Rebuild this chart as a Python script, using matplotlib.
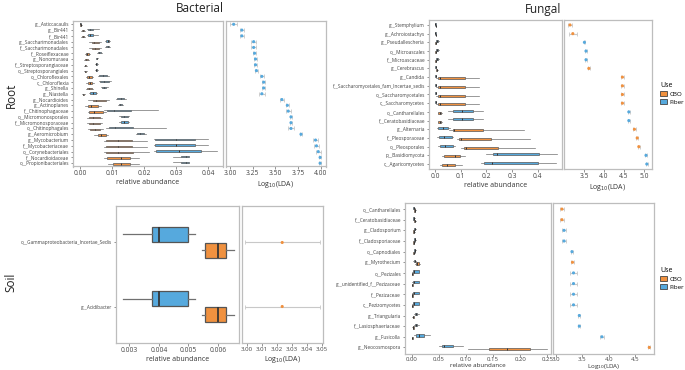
import matplotlib
matplotlib.use("Agg")
import matplotlib.pyplot as plt
from matplotlib.patches import Patch
import numpy as np

plt.rcParams['font.family'] = ['Open Sans', 'DejaVu Sans']

W, H = 685, 370
CBO = '#F0913F'
FIBER = '#56A9DD'
colmap = {'CBO': CBO, 'Fiber': FIBER}

# ---- Root / Bacterial ----
root_bac_labels = ['g__Asticcacaulis', 'g__Bir441', 'f__Bir441', 'g__Saccharimonadales',
                   'f__Saccharimonadales', 'f__Roseiflexaceae', 'g__Nonomuraea',
                   'f__Streptosporangiaceae', 'o__Streptosporangiales', 'o__Chloroflexales',
                   'c__Chloroflexia', 'g__Shinella', 'g__Niastella', 'g__Nocardioides',
                   'g__Actinoplanes', 'f__Chitinophagaceae', 'o__Micromonosporales',
                   'f__Micromonosporaceae', 'o__Chitinophagales', 'g__Aeromicrobium',
                   'g__Mycobacterium', 'f__Mycobacteriaceae', 'o__Corynebacteriales',
                   'f__Nocardioidaceae', 'o__Propionibacteriales']
# whislo, q1, med, q3, whishi
root_bac_cbo = [[0.0000, 0.0001, 0.0002, 0.0003, 0.0005],
                [0.0003, 0.0006, 0.0009, 0.0012, 0.0016],
                [0.0003, 0.0006, 0.0009, 0.0012, 0.0016],
                [0.0028, 0.0036, 0.0045, 0.0060, 0.0065],
                [0.0028, 0.0036, 0.0046, 0.0060, 0.0064],
                [0.0015, 0.0018, 0.0021, 0.0028, 0.0032],
                [0.0013, 0.0016, 0.0020, 0.0024, 0.0028],
                [0.0012, 0.0014, 0.0017, 0.0020, 0.0023],
                [0.0012, 0.0014, 0.0017, 0.0020, 0.0023],
                [0.0018, 0.0023, 0.0028, 0.0036, 0.0042],
                [0.0018, 0.0024, 0.0030, 0.0038, 0.0044],
                [0.0018, 0.0023, 0.0029, 0.0036, 0.0042],
                [0.0006, 0.0008, 0.0010, 0.0012, 0.0014],
                [0.0025, 0.0042, 0.0050, 0.0081, 0.0090],
                [0.0015, 0.0025, 0.0035, 0.0055, 0.0065],
                [0.0025, 0.0029, 0.0045, 0.0072, 0.0080],
                [0.0022, 0.0027, 0.0040, 0.0062, 0.0068],
                [0.0022, 0.0027, 0.0040, 0.0062, 0.0068],
                [0.0025, 0.0030, 0.0048, 0.0063, 0.0072],
                [0.0045, 0.0055, 0.0065, 0.0080, 0.0088],
                [0.0075, 0.0080, 0.0120, 0.0163, 0.0210],
                [0.0075, 0.0080, 0.0120, 0.0163, 0.0210],
                [0.0075, 0.0081, 0.0120, 0.0165, 0.0217],
                [0.0075, 0.0085, 0.0127, 0.0156, 0.0185],
                [0.0087, 0.0104, 0.0127, 0.0156, 0.0185]]
root_bac_fiber = [[0.0000, 0.00005, 0.0001, 0.0002, 0.0004],
                  [0.0022, 0.0026, 0.0030, 0.0042, 0.0058],
                  [0.0022, 0.0026, 0.0031, 0.0041, 0.0057],
                  [0.0079, 0.0081, 0.0086, 0.0092, 0.0095],
                  [0.0078, 0.0081, 0.0086, 0.0091, 0.0094],
                  [0.0052, 0.0055, 0.0058, 0.0064, 0.0068],
                  [0.0049, 0.0050, 0.0052, 0.0054, 0.0056],
                  [0.0048, 0.0049, 0.0051, 0.0053, 0.0055],
                  [0.0048, 0.0049, 0.0051, 0.0053, 0.0055],
                  [0.0055, 0.0060, 0.0072, 0.0083, 0.0089],
                  [0.0058, 0.0063, 0.0076, 0.0092, 0.0098],
                  [0.0066, 0.0069, 0.0075, 0.0082, 0.0087],
                  [0.0029, 0.0032, 0.0042, 0.0050, 0.0053],
                  [0.0111, 0.0116, 0.0128, 0.0139, 0.0143],
                  [0.0120, 0.0122, 0.0126, 0.0132, 0.0134],
                  [0.0075, 0.0083, 0.0105, 0.0160, 0.0245],
                  [0.0122, 0.0127, 0.0138, 0.0149, 0.0153],
                  [0.0122, 0.0127, 0.0138, 0.0149, 0.0153],
                  [0.0080, 0.0089, 0.0110, 0.0166, 0.0268],
                  [0.0174, 0.0177, 0.0189, 0.0200, 0.0205],
                  [0.0232, 0.0234, 0.0300, 0.0360, 0.0400],
                  [0.0232, 0.0234, 0.0300, 0.0360, 0.0400],
                  [0.0232, 0.0236, 0.0310, 0.0377, 0.0428],
                  [0.0290, 0.0315, 0.0330, 0.0340, 0.0342],
                  [0.0290, 0.0315, 0.0330, 0.0340, 0.0342]]
root_bac_lda = [3.04, 3.13, 3.13, 3.26, 3.26, 3.27, 3.28, 3.28, 3.29, 3.35, 3.37, 3.37, 3.35,
                3.57, 3.63, 3.64, 3.67, 3.67, 3.67, 3.78, 3.94, 3.95, 3.97, 3.99, 3.99]
root_bac_err = [0.04, 0.025, 0.025, 0.025, 0.025, 0.02, 0.02, 0.02, 0.02, 0.02, 0.02, 0.02, 0.03,
                0.02, 0.02, 0.025, 0.015, 0.015, 0.03, 0.01, 0.03, 0.03, 0.03, 0.01, 0.01]
root_bac_group = ['Fiber', 'Fiber', 'Fiber', 'Fiber', 'Fiber', 'Fiber', 'Fiber', 'Fiber', 'Fiber',
                  'Fiber', 'Fiber', 'Fiber', 'Fiber', 'Fiber', 'Fiber', 'Fiber', 'Fiber', 'Fiber',
                  'Fiber', 'Fiber', 'Fiber', 'Fiber', 'Fiber', 'Fiber', 'Fiber']

# ---- Root / Fungal ----
root_fun_labels = ['g__Stemphylium', 'g__Achroiostachys', 'g__Pseudallescheria', 'o__Microascales',
                   'f__Microascaceae', 'g__Cerebrascus', 'g__Candida',
                   'f__Saccharomycetales_fam_Incertae_sedis', 'o__Saccharomycetales',
                   'c__Saccharomycetes', 'o__Cantharellales', 'f__Ceratobasidiaceae',
                   'g__Alternaria', 'f__Pleosporaceae', 'o__Pleosporales', 'p__Basidiomycota',
                   'c__Agaricomycetes']
root_fun_cbo = [[0.002, 0.003, 0.004, 0.005, 0.006],
                [0.002, 0.003, 0.004, 0.005, 0.006],
                [0.001, 0.002, 0.003, 0.004, 0.005],
                [0.001, 0.002, 0.003, 0.004, 0.005],
                [0.001, 0.002, 0.003, 0.004, 0.005],
                [0.004, 0.006, 0.008, 0.010, 0.012],
                [0.005, 0.013, 0.019, 0.115, 0.172],
                [0.005, 0.013, 0.019, 0.115, 0.172],
                [0.005, 0.013, 0.019, 0.115, 0.172],
                [0.005, 0.013, 0.019, 0.115, 0.172],
                [0.012, 0.013, 0.018, 0.024, 0.027],
                [0.012, 0.013, 0.018, 0.024, 0.027],
                [0.055, 0.071, 0.075, 0.188, 0.348],
                [0.085, 0.094, 0.100, 0.218, 0.370],
                [0.100, 0.113, 0.120, 0.244, 0.390],
                [0.026, 0.035, 0.080, 0.097, 0.116],
                [0.019, 0.026, 0.048, 0.078, 0.104]]
root_fun_fiber = [[0.001, 0.0015, 0.002, 0.0025, 0.003],
                  [0.001, 0.0015, 0.002, 0.0025, 0.003],
                  [0.004, 0.006, 0.009, 0.012, 0.015],
                  [0.004, 0.006, 0.009, 0.012, 0.015],
                  [0.004, 0.006, 0.009, 0.012, 0.015],
                  [0.001, 0.002, 0.003, 0.004, 0.005],
                  [0.001, 0.002, 0.003, 0.004, 0.005],
                  [0.001, 0.002, 0.003, 0.004, 0.005],
                  [0.001, 0.002, 0.003, 0.004, 0.005],
                  [0.001, 0.002, 0.003, 0.004, 0.005],
                  [0.052, 0.071, 0.107, 0.147, 0.188],
                  [0.052, 0.071, 0.107, 0.147, 0.188],
                  [0.008, 0.013, 0.032, 0.052, 0.060],
                  [0.010, 0.017, 0.035, 0.065, 0.070],
                  [0.012, 0.019, 0.040, 0.071, 0.080],
                  [0.200, 0.227, 0.240, 0.406, 0.475],
                  [0.180, 0.190, 0.220, 0.400, 0.470]]
root_fun_lda = [3.15, 3.22, 3.51, 3.55, 3.55, 3.62, 4.46, 4.46, 4.46, 4.46, 4.62, 4.62,
                4.76, 4.83, 4.87, 5.05, 5.07]
root_fun_err = [0.04, 0.1, 0.02, 0.02, 0.02, 0.03, 0.04, 0.04, 0.04, 0.04, 0.02, 0.02,
                0.04, 0.03, 0.02, 0.02, 0.02]
root_fun_group = ['CBO', 'CBO', 'Fiber', 'Fiber', 'Fiber', 'CBO', 'CBO', 'CBO', 'CBO', 'CBO',
                  'Fiber', 'Fiber', 'CBO', 'CBO', 'CBO', 'Fiber', 'Fiber']

# ---- Soil / Bacterial ----
soil_bac_labels = ['o__Gammaproteobacteria_Incertae_Sedis', 'g__Acidibacter']
soil_bac_cbo = [[0.00546, 0.00556, 0.00600, 0.00627, 0.00653],
                [0.00546, 0.00556, 0.00600, 0.00627, 0.00653]]
soil_bac_fiber = [[0.00279, 0.00377, 0.00400, 0.00500, 0.00522],
                  [0.00279, 0.00377, 0.00400, 0.00500, 0.00522]]
soil_bac_lda = [3.0233, 3.0233]
soil_bac_err = [0.025, 0.025]
soil_bac_group = ['CBO', 'CBO']

# ---- Soil / Fungal ----
soil_fun_labels = ['o__Cantharellales', 'f__Ceratobasidiaceae', 'g__Cladosporium',
                   'f__Cladosporiaceae', 'o__Capnodiales', 'g__Myrothecium', 'o__Pezizales',
                   'g__unidentified_f__Pezizaceae', 'f__Pezizaceae', 'c__Pezizomycetes',
                   'g__Triangularia', 'f__Lasiosphaeriaceae', 'g__Fusicolla', 'g__Neocosmospora']
soil_fun_cbo = [[0.003, 0.004, 0.005, 0.006, 0.007],
                [0.003, 0.004, 0.005, 0.006, 0.007],
                [0.001, 0.002, 0.003, 0.004, 0.005],
                [0.001, 0.002, 0.003, 0.004, 0.005],
                [0.001, 0.002, 0.003, 0.004, 0.005],
                [0.006, 0.008, 0.010, 0.012, 0.014],
                [0.000, 0.000, 0.0005, 0.001, 0.002],
                [0.000, 0.000, 0.0005, 0.001, 0.002],
                [0.000, 0.000, 0.0005, 0.001, 0.002],
                [0.000, 0.000, 0.0005, 0.001, 0.002],
                [0.000, 0.001, 0.002, 0.003, 0.004],
                [0.000, 0.001, 0.002, 0.003, 0.004],
                [0.000, 0.000, 0.0005, 0.001, 0.002],
                [0.104, 0.143, 0.176, 0.218, 0.250]]
soil_fun_fiber = [[0.001, 0.002, 0.003, 0.004, 0.005],
                  [0.001, 0.002, 0.003, 0.004, 0.005],
                  [0.003, 0.004, 0.005, 0.006, 0.007],
                  [0.003, 0.004, 0.005, 0.006, 0.007],
                  [0.003, 0.004, 0.005, 0.006, 0.007],
                  [0.002, 0.004, 0.005, 0.006, 0.008],
                  [0.000, 0.002, 0.004, 0.012, 0.013],
                  [0.000, 0.002, 0.004, 0.012, 0.013],
                  [0.000, 0.002, 0.004, 0.012, 0.013],
                  [0.000, 0.002, 0.004, 0.012, 0.013],
                  [0.004, 0.006, 0.008, 0.010, 0.012],
                  [0.004, 0.006, 0.008, 0.010, 0.012],
                  [0.004, 0.008, 0.012, 0.022, 0.033],
                  [0.050, 0.0556, 0.059, 0.076, 0.094]]
soil_fun_lda = [3.11, 3.11, 3.15, 3.15, 3.30, 3.31, 3.33, 3.33, 3.33, 3.33, 3.44, 3.44, 3.87, 4.77]
soil_fun_err = [0.03, 0.03, 0.03, 0.03, 0.02, 0.03, 0.07, 0.07, 0.07, 0.07, 0.02, 0.02, 0.04, 0.02]
soil_fun_group = ['CBO', 'CBO', 'Fiber', 'Fiber', 'Fiber', 'CBO', 'Fiber', 'Fiber', 'Fiber',
                  'Fiber', 'Fiber', 'Fiber', 'Fiber', 'CBO']


def px(l, t, r, b):
    return [l / W, 1 - b / H, (r - l) / W, (b - t) / H]


def style(ax, fs):
    for s in ax.spines.values():
        s.set_color('#bdbdbd')
        s.set_linewidth(0.9)
    ax.tick_params(axis='both', labelsize=fs, length=1.8, width=0.5, color='#666666',
                   labelcolor='#444444', pad=1)


def stats(rows):
    return [dict(whislo=r[0], q1=r[1], med=r[2], q3=r[3], whishi=r[4], fliers=[]) for r in rows]


def boxes(ax, labels, cbo, fiber, xlim, xticks, fmt, lw, fs=4.8, lp=1.5):
    n = len(labels)
    y = np.arange(n)
    for data, col, off in [(fiber, FIBER, -0.125), (cbo, CBO, 0.125)]:
        ax.bxp(stats(data), positions=y + off, widths=0.23, orientation='horizontal',
               patch_artist=True, showfliers=False, showcaps=False,
               boxprops=dict(facecolor=col, edgecolor='#555555', linewidth=lw),
               medianprops=dict(color='#333333', linewidth=lw * 1.4),
               whiskerprops=dict(color='#707070', linewidth=lw))
    ax.set_ylim(n - 1 + 0.57, -0.57)
    ax.set_xlim(*xlim)
    ax.set_yticks(y)
    ax.set_yticklabels(labels)
    ax.set_xticks(xticks)
    ax.set_xticklabels([fmt.format(v) for v in xticks])
    ax.set_xlabel('relative abundance', fontsize=5, color='#333333', labelpad=lp)
    style(ax, fs)
    ax.tick_params(axis='y', labelsize=3.4)


def lda(ax, vals, err, group, xlim, xticks, fmt, fs=4.8, lp=1.5):
    n = len(vals)
    y = np.arange(n)
    ax.errorbar(vals, y, xerr=err, fmt='none', ecolor='#c8c8c8', elinewidth=0.8,
                capsize=1.5, capthick=0.6, zorder=1)
    ax.scatter(vals, y, s=5, c=[colmap[g] for g in group], zorder=2, linewidths=0)
    ax.set_ylim(n - 1 + 0.57, -0.57)
    ax.set_xlim(*xlim)
    ax.set_yticks([])
    ax.set_xticks(xticks)
    ax.set_xticklabels([fmt.format(v) for v in xticks])
    ax.set_xlabel(r'Log$_{10}$(LDA)', fontsize=5, color='#333333', labelpad=lp)
    style(ax, fs)


fig = plt.figure(figsize=(W / 100, H / 100), dpi=100)

a1 = fig.add_axes(px(73, 21, 223, 166.5))
boxes(a1, root_bac_labels, root_bac_cbo, root_bac_fiber, (-0.0022, 0.0447),
      [0.0, 0.01, 0.02, 0.03, 0.04], '{:.2f}', 0.5)
a2 = fig.add_axes(px(226, 21, 326, 166.5))
lda(a2, root_bac_lda, root_bac_err, root_bac_group, (2.956, 4.055),
    [3.0, 3.25, 3.5, 3.75, 4.0], '{:.2f}')

b1 = fig.add_axes(px(429, 20, 562, 169))
boxes(b1, root_fun_labels, root_fun_cbo, root_fun_fiber, (-0.023, 0.494),
      [0.0, 0.1, 0.2, 0.3, 0.4], '{:.1f}', 0.5)
b2 = fig.add_axes(px(564, 20, 652, 169))
lda(b2, root_fun_lda, root_fun_err, root_fun_group, (3.0, 5.2), [3.5, 4.0, 4.5, 5.0], '{:.1f}')

c1 = fig.add_axes(px(116, 206, 239, 343))
boxes(c1, soil_bac_labels, soil_bac_cbo, soil_bac_fiber, (0.00256, 0.0067),
      [0.003, 0.004, 0.005, 0.006], '{:.3f}', 0.9)
c2 = fig.add_axes(px(242, 206, 323, 343))
lda(c2, soil_bac_lda, soil_bac_err, soil_bac_group, (2.9965, 3.0505),
    [3.00, 3.01, 3.02, 3.03, 3.04, 3.05], '{:.2f}', fs=4.4)

d1 = fig.add_axes(px(405, 203, 551, 353.5))
boxes(d1, soil_fun_labels, soil_fun_cbo, soil_fun_fiber, (-0.013, 0.257),
      [0.0, 0.05, 0.1, 0.15, 0.2, 0.25], '{:.2f}', 0.5, fs=4.3, lp=0.2)
d2 = fig.add_axes(px(553, 203, 654, 353.5))
lda(d2, soil_fun_lda, soil_fun_err, soil_fun_group, (2.94, 4.86), [3.0, 3.5, 4.0, 4.5], '{:.1f}',
    fs=4.3, lp=0.0)
for ax in (d1, d2):
    ax.xaxis.label.set_fontsize(4.5)

fig.text(200 / W, 1 - 9 / H, 'Bacterial', ha='center', va='center', fontsize=8.5, color='#222222')
fig.text(543 / W, 1 - 9 / H, 'Fungal', ha='center', va='center', fontsize=8.5, color='#222222')
fig.text(11 / W, 1 - 95 / H, 'Root', ha='center', va='center', rotation=90, fontsize=8.5,
         color='#222222')
fig.text(11 / W, 1 - 282 / H, 'Soil', ha='center', va='center', rotation=90, fontsize=8.5,
         color='#222222')

handles = [Patch(facecolor=CBO, edgecolor='#444444', linewidth=0.6, label='CBO'),
           Patch(facecolor=FIBER, edgecolor='#444444', linewidth=0.6, label='Fiber')]
for ytop in (78, 263):
    fig.legend(handles=handles, title='Use', loc='upper left',
               bbox_to_anchor=(656 / W, 1 - ytop / H), frameon=False, fontsize=4.5,
               title_fontsize=5, handlelength=1.0, handleheight=0.9, handletextpad=0.5,
               labelspacing=0.3, borderpad=0.2, alignment='left')

fig.savefig('out.png', dpi=100)
